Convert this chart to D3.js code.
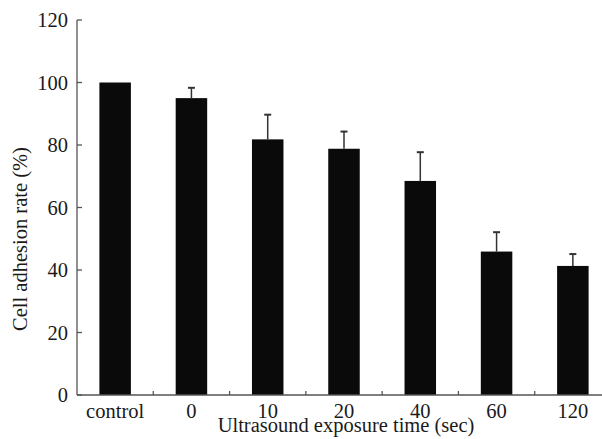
<!DOCTYPE html>
<html><head><meta charset="utf-8">
<script src="https://cdn.jsdelivr.net/npm/d3@7"></script>
<style>body{margin:0;background:#fff}svg{display:block}text{font-family:"Liberation Serif","Times New Roman",serif;fill:#1a1a1a}</style>
</head><body>
<script>
const categories = ["control","0","10","20","40","60","120"];
const values = [100, 95.0, 81.8, 78.8, 68.5, 45.9, 41.3];
const errors = [0, 3.3, 7.9, 5.5, 9.2, 6.2, 3.8];
const yTicks = [0,20,40,60,80,100,120];
const yLabel = "Cell adhesion rate (%)";
const xLabel = "Ultrasound exposure time (sec)";

const W = 602, H = 439;
const svg = d3.select("body").append("svg").attr("width", W).attr("height", H);
const x = d3.scaleBand().domain(categories).range([77, 611]).padding(0);
const y = d3.scaleLinear().domain([0,120]).range([395, 20]);
const barW = 31.5;
const axisCol = "#555";
const fs = 20.5;

// bars
svg.selectAll("rect.bar").data(categories).join("rect")
  .attr("x", d => x(d) + x.bandwidth()/2 - barW/2)
  .attr("width", barW)
  .attr("y", (d,i) => y(values[i]))
  .attr("height", (d,i) => y(0) - y(values[i]))
  .attr("fill", "#0a0a0a");

// error bars
const eb = svg.append("g").attr("stroke", "#333").attr("stroke-width", 1.5);
categories.forEach((c,i) => {
  if (!errors[i]) return;
  const cx = x(c) + x.bandwidth()/2;
  eb.append("line").attr("x1", cx).attr("x2", cx).attr("y1", y(values[i])).attr("y2", y(values[i]+errors[i]));
  eb.append("line").attr("x1", cx-3.5).attr("x2", cx+3.5).attr("y1", y(values[i]+errors[i])).attr("y2", y(values[i]+errors[i])).attr("stroke-width", 2);
});

// y axis
const ya = svg.append("g");
ya.append("line").attr("x1", 77).attr("x2", 77).attr("y1", y(120)).attr("y2", y(0)).attr("stroke", axisCol).attr("stroke-width", 1.3);
ya.selectAll("line.t").data(yTicks).join("line").attr("class","t")
  .attr("x1", 77).attr("x2", 82).attr("y1", d => y(d)).attr("y2", d => y(d))
  .attr("stroke", axisCol).attr("stroke-width", 1.3);
ya.selectAll("text").data(yTicks).join("text")
  .attr("x", 68).attr("y", d => y(d)).attr("dy", "0.35em")
  .attr("text-anchor", "end").attr("font-size", fs).text(d => d);

// x axis
const xa = svg.append("g");
xa.append("line").attr("x1", 77).attr("x2", 611).attr("y1", y(0)).attr("y2", y(0)).attr("stroke", axisCol).attr("stroke-width", 1.3);
xa.selectAll("line.t").data(categories.slice(1)).join("line").attr("class","t")
  .attr("x1", d => x(d)).attr("x2", d => x(d)).attr("y1", y(0)).attr("y2", y(0)-4)
  .attr("stroke", axisCol).attr("stroke-width", 1.3);
xa.selectAll("text").data(categories).join("text")
  .attr("x", d => x(d) + x.bandwidth()/2).attr("y", 418)
  .attr("text-anchor", "middle").attr("font-size", fs).text(d => d);

svg.append("text").attr("x", 346).attr("y", 432).attr("text-anchor", "middle")
  .attr("font-size", fs).text(xLabel);
svg.append("text").attr("transform", "translate(27,239) rotate(-90)")
  .attr("text-anchor", "middle").attr("font-size", fs).text(yLabel);
</script>
</body></html>
